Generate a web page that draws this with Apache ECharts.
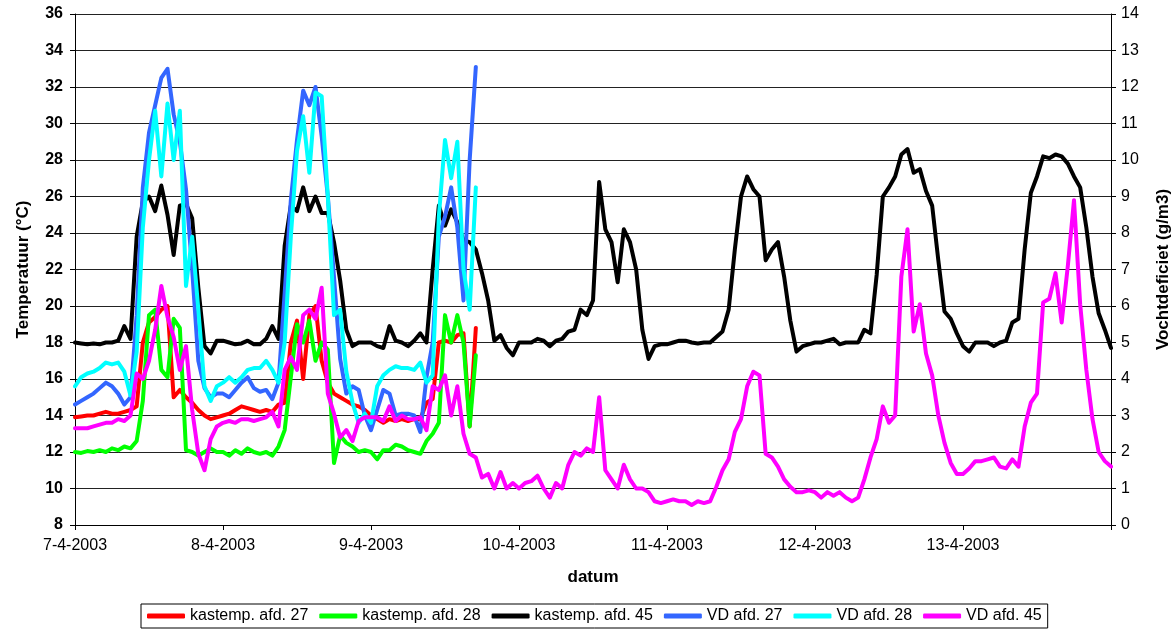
<!DOCTYPE html>
<html>
<head>
<meta charset="utf-8">
<script src="https://cdn.jsdelivr.net/npm/echarts@6/dist/echarts.min.js"></script>
<style>
html,body{margin:0;padding:0;background:#fff;}
#chart{width:1175px;height:633px;}
</style>
</head>
<body>
<div id="chart"></div>
<script>
// x = hours since 7-4-2003 00:00, hourly readings
const dateLabels = ['7-4-2003','8-4-2003','9-4-2003','10-4-2003','11-4-2003','12-4-2003','13-4-2003'];
const seriesNames = ['kastemp. afd. 27','kastemp. afd. 28','kastemp. afd. 45','VD afd. 27','VD afd. 28','VD afd. 45'];

const kastemp27 = [13.9,13.95,14.0,14.0,14.1,14.2,14.1,14.1,14.2,14.3,14.5,18.0,19.1,19.4,19.8,20.0,15.0,15.4,15.0,14.7,14.3,14.0,13.8,13.9,
 14.0,14.1,14.3,14.5,14.4,14.3,14.2,14.3,14.2,14.6,14.7,18.0,19.2,16.0,19.5,20.0,17.0,15.8,15.2,15.0,14.8,14.6,14.5,14.3,
 14.0,13.8,13.6,13.8,13.7,13.8,13.7,13.8,13.8,14.7,14.9,18.0,18.1,18.0,18.4,18.5,13.4,18.8];

const kastemp28 = [12.0,11.95,12.05,12.0,12.1,12.0,12.2,12.1,12.3,12.2,12.6,14.8,19.5,19.8,16.5,16.1,19.3,18.8,12.1,12.0,11.8,12.0,12.2,12.0,
 12.0,11.8,12.1,11.9,12.2,12.0,11.9,12.0,11.8,12.3,13.2,16.1,19.0,18.0,19.2,17.0,18.0,17.6,11.4,12.9,12.5,12.3,12.0,12.1,
 12.0,11.6,12.1,12.1,12.4,12.3,12.1,12.0,11.9,12.6,13.0,13.6,19.5,18.0,19.5,18.0,13.4,17.3];

const kastemp45 = [18.0,17.95,17.9,17.95,17.9,18.0,18.0,18.1,18.9,18.2,23.8,25.7,26.0,25.2,26.6,25.0,22.8,25.5,25.6,24.8,21.0,17.8,17.4,18.1,
 18.1,18.0,17.9,17.95,18.1,17.9,17.9,18.2,18.9,18.2,23.3,25.5,25.2,26.5,25.2,26.0,25.1,25.1,23.5,21.4,18.7,17.8,18.0,18.0,
 18.0,17.8,17.7,18.9,18.1,18.0,17.8,18.1,18.5,18.0,22.0,25.5,24.4,25.3,24.6,23.6,23.5,23.1,21.8,20.3,18.1,18.4,17.7,17.3,
 18.0,18.0,18.0,18.2,18.1,17.8,18.1,18.2,18.6,18.7,19.8,19.5,20.3,26.8,24.2,23.5,21.3,24.2,23.5,22.0,18.7,17.1,17.8,17.9,
 17.9,18.0,18.1,18.1,18.0,17.95,18.0,18.0,18.3,18.6,19.8,23.1,26.0,27.1,26.4,26.0,22.5,23.1,23.5,21.6,19.2,17.5,17.8,17.9,
 18.0,18.0,18.1,18.2,17.9,18.0,18.0,18.0,18.7,18.5,21.7,26.0,26.5,27.1,28.3,28.6,27.3,27.5,26.3,25.5,22.5,19.7,19.3,18.5,
 17.8,17.5,18.0,18.0,18.0,17.8,18.0,18.1,19.1,19.3,23.1,26.2,27.1,28.2,28.1,28.3,28.2,27.8,27.1,26.5,24.3,21.6,19.6,18.7,17.7];

const vd27 = [3.3,3.4,3.5,3.6,3.75,3.9,3.8,3.6,3.3,3.5,5.75,9.25,10.75,11.5,12.25,12.5,11.25,10.5,9.2,7.0,4.5,3.75,3.5,3.6,
 3.6,3.5,3.7,3.9,4.05,3.75,3.65,3.7,3.45,3.9,6.35,8.9,10.55,11.9,11.5,12.0,10.65,9.0,6.8,4.55,3.6,3.8,3.7,3.0,
 2.6,3.15,3.7,3.6,3.0,3.05,3.05,3.0,2.55,4.05,5.0,7.9,8.45,9.25,8.15,6.15,10.0,12.55];

const vd28 = [3.8,4.05,4.15,4.2,4.3,4.45,4.4,4.45,4.2,3.55,4.75,8.15,10.0,11.35,9.55,11.55,10.0,11.35,6.55,7.9,5.9,3.8,3.4,3.8,
 3.9,4.05,3.9,4.05,4.25,4.3,4.3,4.5,4.25,3.9,5.0,7.9,10.25,11.2,9.65,11.85,11.75,9.0,5.75,5.9,4.2,3.35,2.8,3.05,
 2.8,3.8,4.1,4.25,4.35,4.3,4.3,4.25,4.45,3.9,4.1,8.45,10.55,9.5,10.5,7.0,5.9,9.25];

const vd45 = [2.65,2.65,2.65,2.7,2.75,2.8,2.8,2.9,2.85,3.0,4.15,4.0,4.5,5.35,6.55,5.7,5.15,4.25,4.9,3.15,1.95,1.5,2.35,2.7,
 2.8,2.85,2.8,2.9,2.9,2.85,2.9,2.95,3.1,2.7,4.25,4.6,4.25,5.75,5.9,5.65,6.5,3.6,3.05,2.4,2.6,2.3,2.85,2.95,
 2.95,2.95,2.85,3.25,2.85,3.0,2.9,2.9,2.95,2.6,3.8,3.7,4.1,3.0,3.8,2.5,1.95,1.85,1.3,1.4,1.0,1.45,1.0,1.15,
 1.0,1.15,1.2,1.35,1.0,0.75,1.15,1.0,1.65,2.0,1.9,2.1,2.0,3.5,1.5,1.25,1.0,1.65,1.25,1.0,1.0,0.9,0.65,0.6,
 0.65,0.7,0.65,0.65,0.55,0.65,0.6,0.65,1.05,1.5,1.8,2.55,2.9,3.8,4.2,4.1,1.95,1.85,1.6,1.25,1.05,0.9,0.9,0.95,
 0.9,0.75,0.9,0.8,0.9,0.75,0.65,0.75,1.25,1.85,2.35,3.25,2.8,3.0,6.8,8.1,5.3,6.05,4.7,4.1,3.0,2.25,1.7,1.4,
 1.4,1.55,1.75,1.75,1.8,1.85,1.6,1.55,1.8,1.6,2.7,3.35,3.6,6.1,6.2,6.9,5.55,7.1,8.9,6.05,4.25,2.9,2.0,1.75,1.6];

const colors = ['#ff0000','#00ff00','#000000','#3366ff','#00ffff','#ff00ff'];
const allValues = [kastemp27,kastemp28,kastemp45,vd27,vd28,vd45];
const axisIdx = [0,0,0,1,1,1];

const FONT = '"Liberation Sans", Arial, sans-serif';
const chart = echarts.init(document.getElementById('chart'), null, {renderer:'canvas'});

const series = allValues.map((vals, k) => ({
  name: seriesNames[k],
  type: 'line',
  yAxisIndex: axisIdx[k],
  data: vals.map((v, i) => [i, v]),
  symbol: 'none',
  showSymbol: false,
  lineStyle: {color: colors[k], width: 4, join: 'round', cap: 'round'},
  itemStyle: {color: colors[k]},
  z: 2 + k
}));

chart.setOption({
  animation: false,
  backgroundColor: '#ffffff',
  grid: {left: 75, right: 64, top: 14, bottom: 108, containLabel: false, outerBoundsMode: 'none'},
  legend: {
    data: seriesNames,
    left: 141, top: 604,
    icon: 'roundRect',
    itemWidth: 38, itemHeight: 5, itemGap: 11,
    padding: [4, 6],
    borderColor: '#000', borderWidth: 1,
    textStyle: {fontFamily: FONT, fontSize: 16, color: '#000'}
  },
  xAxis: {
    type: 'value', min: 0, max: 168, interval: 24,
    name: 'datum', nameLocation: 'middle', nameGap: 44,
    nameTextStyle: {fontFamily: FONT, fontSize: 17, fontWeight: 'bold', color: '#000'},
    axisLine: {show: true, onZero: false, lineStyle: {color: '#000', width: 1}},
    axisTick: {show: true, length: 5, lineStyle: {color: '#000'}},
    splitLine: {show: false},
    axisLabel: {
      margin: 13, fontFamily: FONT, fontSize: 16, color: '#000',
      formatter: v => dateLabels[Math.round(v / 24)] || ''
    }
  },
  yAxis: [{
    type: 'value', min: 8, max: 36, interval: 2, position: 'left',
    name: 'Temperatuur (°C)', nameLocation: 'middle', nameGap: 43,
    nameTextStyle: {fontFamily: FONT, fontSize: 17, fontWeight: 'bold', color: '#000'},
    axisLine: {show: true, lineStyle: {color: '#000', width: 1}},
    axisTick: {show: true, length: 5, lineStyle: {color: '#000'}},
    axisLabel: {margin: 12, fontFamily: FONT, fontSize: 16, fontWeight: 'bold', color: '#000'},
    splitLine: {show: true, lineStyle: {color: '#222', width: 1}}
  }, {
    type: 'value', min: 0, max: 14, interval: 1, position: 'right',
    name: 'Vochtdeficiet (g/m3)', nameLocation: 'middle', nameGap: 44,
    nameTextStyle: {fontFamily: FONT, fontSize: 17, fontWeight: 'bold', color: '#000'},
    axisLine: {show: true, lineStyle: {color: '#000', width: 1}},
    axisTick: {show: true, length: 5, lineStyle: {color: '#000'}},
    axisLabel: {margin: 10, fontFamily: FONT, fontSize: 16, color: '#000'},
    splitLine: {show: false}
  }],
  series: series
});
</script>
</body>
</html>
